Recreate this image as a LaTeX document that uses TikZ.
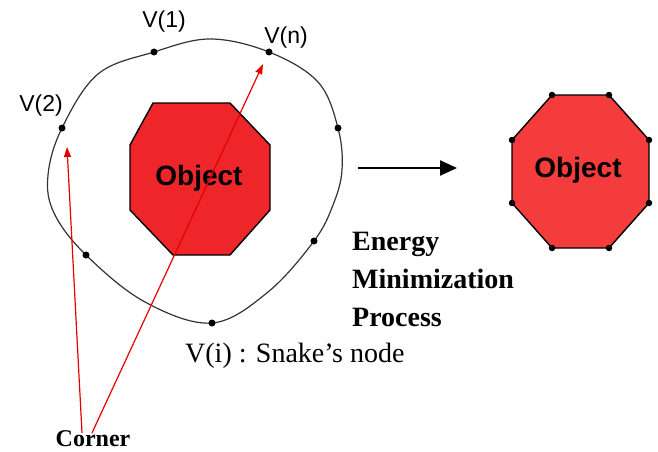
\documentclass[tikz,border=0pt]{standalone}
\usepackage{fontspec}
\setmainfont{Liberation Serif}
\setsansfont{Liberation Sans}
\usetikzlibrary{arrows.meta,positioning}

\begin{document}
\begin{tikzpicture}[x=1pt,y=-1pt,
  snake/.style={draw=black!80,line width=1.2pt},
  vtx/.style={circle,fill=black,inner sep=0pt,minimum size=7pt},
  obj/.style={draw=black,line width=1.4pt},
  objtxt/.style={font=\sffamily\bfseries\fontsize{28}{30}\selectfont},
  vlbl/.style={font=\sffamily\fontsize{23}{25}\selectfont,inner sep=0pt},
  ar/.style={-{Triangle[length=17pt,width=15pt]},black,line width=2.4pt},
  redar/.style={-{Triangle[length=10pt,width=7pt]},red!90!black,line width=1.2pt}]
 \useasboundingbox (0,0) rectangle (658,452);
 \draw[obj,fill={rgb,255:red,238;green,38;blue,42}] (153,103) -- (230,103) -- (270,145) -- (270,210) -- (230,255) -- (173,255) -- (130,210) -- (130,145) -- cycle;
 \node[objtxt] (obj1) at (199,178) {Object};
 \draw[snake] plot[smooth cycle,tension=0.6] coordinates {(210,39) (269,52) (318,82) (338,128) (342,170) (333,205) (314,241) (268,292) (212,323) (145,302) (86,255) (54,213) (48,175) (62,128) (98,74) (154,52)};
 \foreach \p/\n in {(154,52)/v1,(269,52)/vn,(62,128)/v2,(338,128)/va,(314,241)/vb,(212,323)/vi,(86,255)/vc}
   \node[vtx] (\n) at \p {};
 \node[vlbl] (lv1) at (164,22) {V(1)};
 \node[vlbl] (lvn) at (286,38) {V(n)};
 \node[vlbl] (lv2) at (41,106) {V(2)};
 \node[font=\fontsize{28}{30}\selectfont,anchor=base west,inner sep=0pt] (lvi) at (185,362) {V(i) : Snake's node};
 \coordinate (arrs) at (358,168); \coordinate (arre) at (457,168);
 \draw[ar] (arrs) -- (arre);
 \node[font=\bfseries\fontsize{28}{38}\selectfont,align=left,anchor=north west,inner sep=0pt] (emp) at (352,232) {Energy\\Minimization\\Process};
 \draw[obj,fill={rgb,255:red,244;green,60;blue,60}] (552,95) -- (609,95) -- (649,140) -- (649,203) -- (609,248) -- (552,248) -- (512,203) -- (512,140) -- cycle;
 \foreach \p [count=\k] in {(552,95),(609,95),(649,140),(649,203),(609,248),(552,248),(512,203),(512,140)}
   \node[vtx,minimum size=6.5pt] (w\k) at \p {};
 \node[objtxt] (obj2) at (578,170) {Object};
 \node[font=\bfseries\fontsize{24}{26}\selectfont,anchor=base,inner sep=0pt] (corner) at (93,446) {Corner};
 \coordinate (tipl) at (67,147); \coordinate (tipr) at (263,64);
 \draw[redar] ([xshift=-11pt,yshift=-3pt]corner.north) -- (tipl);
 \draw[redar] ([xshift=-1pt,yshift=-3pt]corner.north) -- (tipr);
\end{tikzpicture}
\end{document}
